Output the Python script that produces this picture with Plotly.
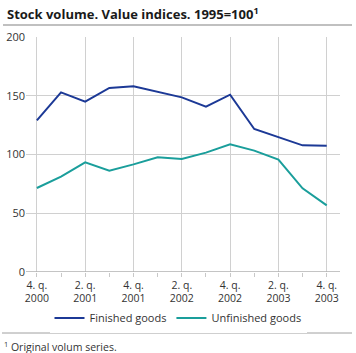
import plotly.graph_objects as go

quarters = list(range(13))
tick_labels = ["4. q.<br>2000", "2. q.<br>2001", "4. q.<br>2001", "2. q.<br>2002",
               "4. q.<br>2002", "2. q.<br>2003", "4. q.<br>2003"]
finished = [129, 152.9, 145, 156.6, 158, 153, 148.6, 140.7, 150.9, 121.7, 114.9, 107.8, 107.5]
unfinished = [71.5, 81.1, 93.3, 86.2, 91.6, 97.6, 96.2, 101.6, 108.7, 103.3, 95.6, 71.2, 56.7]

FONT = "Open Sans"
W, H = 356, 353
L, R, T, B = 26, 340, 37, 272
pw, ph = R - L, B - T

def px(x):
    return (x - L) / pw

def py(y):
    return (B - y) / ph

fig = go.Figure()
fig.add_trace(go.Scatter(x=quarters, y=finished, mode="lines", name="Finished goods",
                         line=dict(color="#1c3996", width=2)))
fig.add_trace(go.Scatter(x=quarters, y=unfinished, mode="lines", name="Unfinished goods",
                         line=dict(color="#1a9e9b", width=2)))

fig.update_layout(
    width=W, height=H,
    margin=dict(l=L, r=W - R, t=T, b=H - B, autoexpand=False),
    paper_bgcolor="white", plot_bgcolor="white",
    font=dict(family=FONT, size=11, color="#333"),
    showlegend=True,
    legend=dict(orientation="h", xref="container", yref="container",
                x=0.5, xanchor="center", y=(H - 318) / H, yanchor="middle",
                font=dict(size=11, color="#333"), itemwidth=30, tracegroupgap=0),
    xaxis=dict(range=[-0.45, 12.55], tickvals=list(range(0, 13, 2)), ticktext=tick_labels,
               showgrid=True, gridcolor="#d0d0d0", gridwidth=1,
               ticks="outside", ticklen=3, tickcolor="#c8c8c8",
               minor=dict(tickvals=list(range(13)), ticks="outside", ticklen=4,
                          tickcolor="#c8c8c8", showgrid=False),
               showline=False, zeroline=False, automargin=False, tickfont=dict(size=10.5)),
    yaxis=dict(range=[0, 200], tickvals=[0, 50, 100, 150, 200],
               showgrid=True, gridcolor="#d0d0d0", gridwidth=1,
               zeroline=False, showline=False, ticks="", automargin=False,
               tickfont=dict(size=11)),
    shapes=[
        dict(type="line", xref="paper", yref="paper", x0=px(3), x1=px(352), y0=py(25), y1=py(25),
             line=dict(color="#c0c0c0", width=2)),
        dict(type="line", xref="paper", yref="y", x0=0, x1=1, y0=0, y1=0,
             line=dict(color="#b0b0b0", width=1.5)),
        dict(type="line", xref="paper", yref="paper", x0=px(2), x1=px(352), y0=py(333), y1=py(333),
             line=dict(color="#a0a0a0", width=1)),
    ],
    annotations=[
        dict(text="<b>Stock volume. Value indices. 1995=100<sup>1</sup></b>",
             xref="paper", yref="paper", x=px(5), y=py(13), xanchor="left", yanchor="middle",
             showarrow=False, font=dict(size=13, color="#1a1a1a")),
        dict(text="<sup>1</sup> Original volum series.",
             xref="paper", yref="paper", x=px(2), y=py(346), xanchor="left", yanchor="middle",
             showarrow=False, font=dict(size=10.5, color="#333")),
    ],
)
fig.write_html("out.html")
